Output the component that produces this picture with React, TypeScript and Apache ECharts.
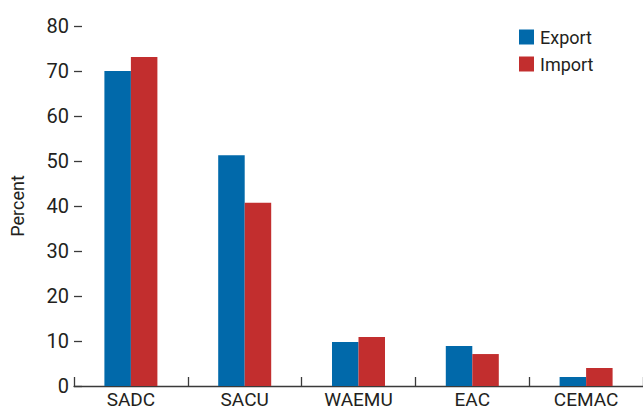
import React, { useEffect, useRef } from "react";
import * as echarts from "echarts";

const categories = ["SADC", "SACU", "WAEMU", "EAC", "CEMAC"];
const exportValues = [70.0, 51.3, 9.8, 8.9, 2.0];
const importValues = [73.1, 40.7, 10.9, 7.1, 4.0];
const yTicks = { min: 0, max: 80, interval: 10 };

const FONT = "Roboto, 'Liberation Sans', sans-serif";
const TEXT = "#231f20";

export default function App() {
  const ref = useRef<HTMLDivElement>(null);
  useEffect(() => {
    if (!ref.current) return;
    const chart = echarts.init(ref.current, null, { renderer: "svg" });
    chart.setOption({
      animation: false,
      textStyle: { fontFamily: FONT },
      grid: { left: 72, width: 580, top: 26, bottom: 24, containLabel: false },
      legend: {
        orient: "vertical",
        left: 519,
        top: 28,
        padding: 0,
        itemWidth: 15,
        itemHeight: 15,
        itemGap: 9,
        icon: "rect",
        textStyle: { fontFamily: FONT, fontSize: 18, color: TEXT, padding: [0, 0, 0, 1] },
        data: ["Export", "Import"],
      },
      xAxis: {
        type: "category",
        data: categories,
        axisLine: { show: true, lineStyle: { color: "#3a3a3a", width: 1.3 } },
        axisTick: { show: true, inside: true, length: 9, lineStyle: { color: "#3a3a3a", width: 1.3 } },
        axisLabel: { fontFamily: FONT, fontSize: 19, color: TEXT, margin: 4 },
      },
      yAxis: {
        type: "value",
        min: yTicks.min,
        max: yTicks.max,
        interval: yTicks.interval,
        name: "Percent",
        nameLocation: "middle",
        nameGap: 48,
        nameTextStyle: { fontFamily: FONT, fontSize: 18, color: TEXT },
        splitLine: { show: false },
        axisLine: { show: false },
        axisTick: { show: true, inside: true, length: 8, lineStyle: { color: "#3a3a3a", width: 1.3 } },
        axisLabel: { fontFamily: FONT, fontSize: 20, color: TEXT, margin: 5 },
      },
      series: [
        {
          name: "Export",
          type: "bar",
          data: exportValues,
          barWidth: 26.5,
          barGap: "0%",
          itemStyle: { color: "#0169aa" },
        },
        {
          name: "Import",
          type: "bar",
          data: importValues,
          barWidth: 26.5,
          barGap: "0%",
          itemStyle: { color: "#c22e2e" },
        },
      ],
    });
    return () => chart.dispose();
  }, []);
  return <div ref={ref} style={{ width: 643, height: 410, position: "absolute", left: 0, top: 0 }} />;
}
